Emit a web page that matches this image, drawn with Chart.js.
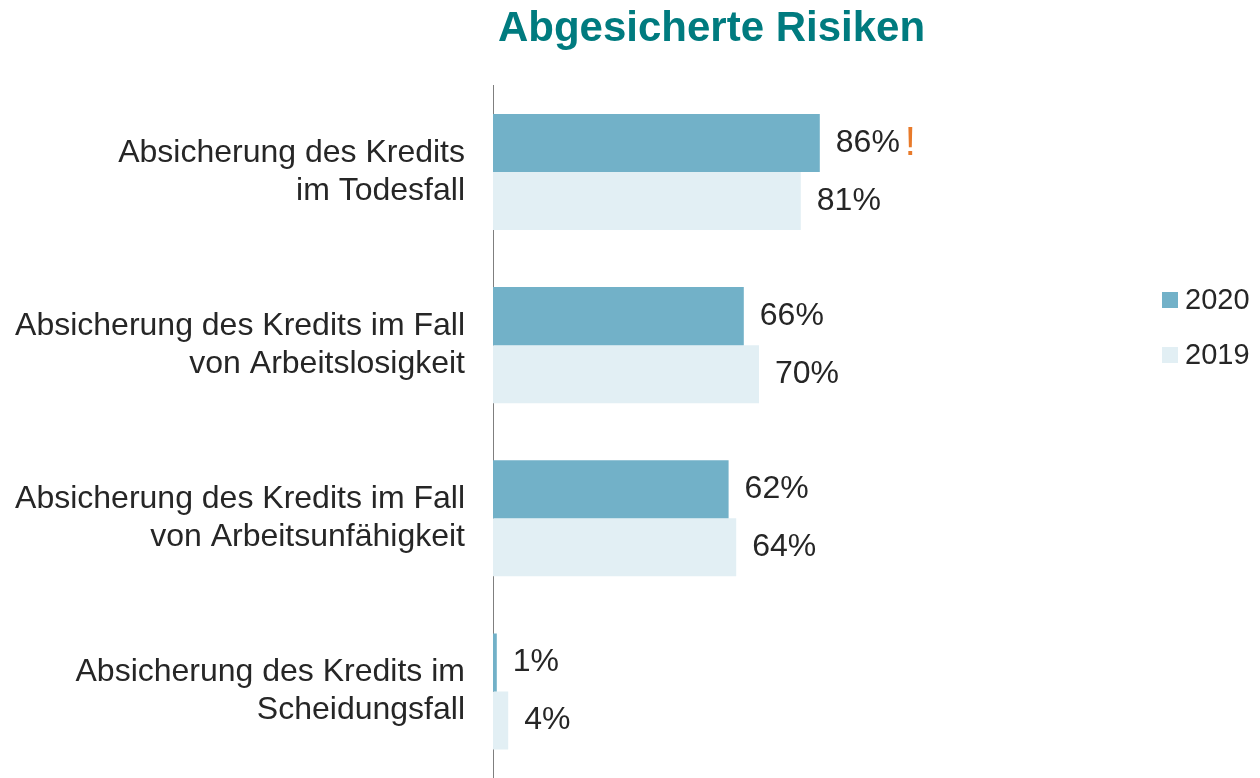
<!DOCTYPE html>
<html>
<head>
<meta charset="utf-8">
<script src="https://cdn.jsdelivr.net/npm/chart.js@4"></script>
<style>
    html, body { margin: 0; padding: 0; background: #fff; overflow: hidden; }
    #wrap { width: 1260px; height: 778px; position: relative; }
</style>
</head>
<body>
<div id="wrap"><canvas id="grafico"></canvas></div>
<script>
// Dados do gráfico
const categorias = [
    ['Absicherung des Kredits', 'im Todesfall'],
    ['Absicherung des Kredits im Fall', 'von Arbeitslosigkeit'],
    ['Absicherung des Kredits im Fall', 'von Arbeitsunfähigkeit'],
    ['Absicherung des Kredits im', 'Scheidungsfall']
];
const anos = ['2020', '2019'];
const valores2020 = [86, 66, 62, 1];
const valores2019 = [81, 70, 64, 4];
const destaques2020 = [true, false, false, false]; // "!" ao lado do valor

const fonte = 'Liberation Sans, Arial, sans-serif';
const corTexto = '#262626';
const cores = ['#72b1c8', '#e2eff4'];

// Rótulos de valor no fim das barras
const rotulosPlugin = {
    id: 'rotulos',
    afterDatasetsDraw(chart) {
        const ctx = chart.ctx;
        ctx.save();
        ctx.textBaseline = 'middle';
        ctx.textAlign = 'left';
        chart.data.datasets.forEach((ds, i) => {
            const meta = chart.getDatasetMeta(i);
            meta.data.forEach((barra, j) => {
                const texto = ds.data[j] + '%';
                const x = barra.x + 16;
                ctx.font = '32px ' + fonte;
                ctx.fillStyle = corTexto;
                ctx.fillText(texto, x, barra.y);
                if (i === 0 && destaques2020[j]) {
                    const w = ctx.measureText(texto).width;
                    ctx.font = '40px ' + fonte;
                    ctx.fillStyle = '#e87a2a';
                    ctx.fillText('!', x + w + 5, barra.y + 1);
                }
            });
        });
        ctx.restore();
    }
};

// Legenda à direita
const legendaPlugin = {
    id: 'legenda',
    afterDraw(chart) {
        const ctx = chart.ctx;
        ctx.save();
        ctx.font = '29px ' + fonte;
        ctx.textBaseline = 'middle';
        ctx.textAlign = 'left';
        chart.data.datasets.forEach((ds, i) => {
            const y = 300 + i * 55;
            ctx.fillStyle = ds.backgroundColor;
            ctx.fillRect(1162, y - 8, 16, 16);
            ctx.fillStyle = corTexto;
            ctx.fillText(ds.label, 1185, y + 1);
        });
        ctx.restore();
    }
};

const dados = {
    labels: categorias,
    datasets: [
        { label: anos[0], data: valores2020, backgroundColor: cores[0] },
        { label: anos[1], data: valores2019, backgroundColor: cores[1] }
    ]
};

const config = {
    type: 'bar',
    data: dados,
    options: {
        indexAxis: 'y',
        responsive: true,
        maintainAspectRatio: false,
        animation: false,
        datasets: {
            bar: { barPercentage: 1, categoryPercentage: 0.67, borderWidth: 0 }
        },
        layout: { padding: { top: 0, right: 330, bottom: 0, left: 0 } },
        scales: {
            x: { display: false, min: 0, max: 115 },
            y: {
                grid: { display: true, drawOnChartArea: false, drawTicks: false },
                border: { display: true, color: '#7f7f7f', width: 1 },
                ticks: {
                    color: corTexto,
                    padding: 28,
                    font: { family: fonte, size: 32, lineHeight: 1.19 }
                },
                afterFit(scale) {
                    scale.width = 493;
                    scale.paddingTop = 0;
                    scale.paddingBottom = 0;
                }
            }
        },
        plugins: {
            legend: { display: false },
            tooltip: { enabled: false },
            title: {
                display: true,
                text: 'Abgesicherte Risiken',
                fullSize: false,
                color: '#007b7f',
                font: { family: fonte, size: 42, weight: 'bold', lineHeight: 1.2 },
                padding: { top: 4, bottom: 31 }
            }
        }
    },
    plugins: [rotulosPlugin, legendaPlugin]
};

const ctx = document.getElementById('grafico').getContext('2d');
const grafico = new Chart(ctx, config);
</script>
</body>
</html>
